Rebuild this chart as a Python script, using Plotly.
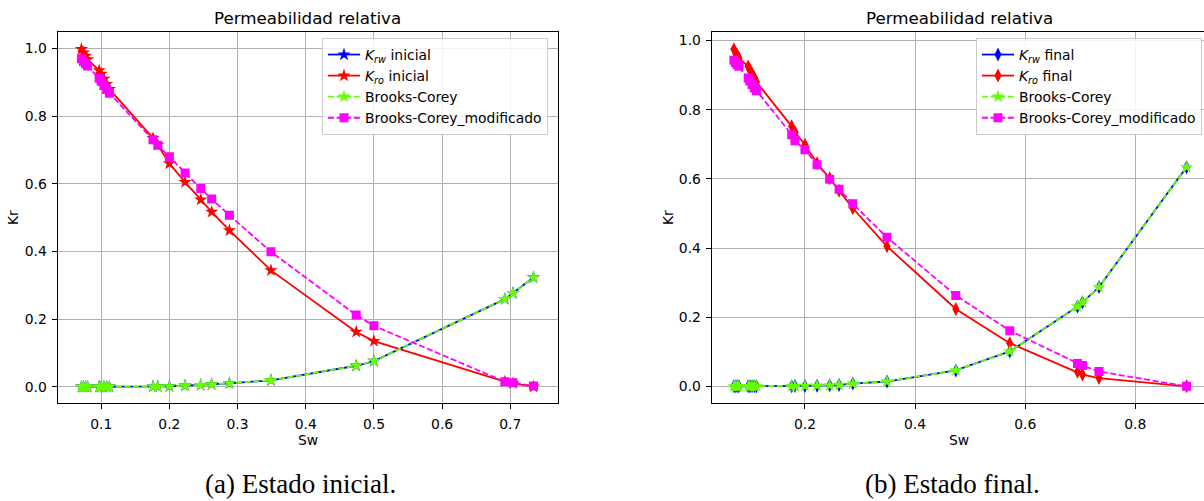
import plotly.graph_objects as go

# ---------------- data: initial state (a) ----------------
sw_ini = [0.071, 0.074, 0.077, 0.080, 0.097, 0.100, 0.104, 0.108, 0.112,
          0.176, 0.183, 0.200, 0.223, 0.246, 0.262, 0.288, 0.349, 0.474,
          0.500, 0.692, 0.704, 0.734]
krw_ini = [0.0, 0.0, 0.0, 0.0, 0.0, 0.0, 0.0, 0.0, 0.0,
           0.0005, 0.0007, 0.001, 0.003, 0.005, 0.007, 0.010, 0.019, 0.062,
           0.076, 0.259, 0.277, 0.323]
kro_ini = [0.998, 0.988, 0.978, 0.968, 0.935, 0.925, 0.910, 0.895, 0.880,
           0.735, 0.715, 0.660, 0.605, 0.553, 0.517, 0.462, 0.344, 0.162,
           0.135, 0.015, 0.010, 0.000]
bc_ini = [0.0, 0.0, 0.0, 0.0, 0.0, 0.0, 0.0, 0.0, 0.0,
          0.0005, 0.0007, 0.001, 0.003, 0.005, 0.007, 0.010, 0.019, 0.062,
          0.076, 0.259, 0.277, 0.323]
bcm_ini = [0.970, 0.962, 0.955, 0.948, 0.912, 0.903, 0.891, 0.879, 0.868,
           0.730, 0.714, 0.680, 0.632, 0.586, 0.555, 0.507, 0.399, 0.212,
           0.180, 0.015, 0.012, 0.002]

# ---------------- data: final state (b) ----------------
sw_fin = [0.071, 0.074, 0.077, 0.080, 0.097, 0.100, 0.104, 0.108, 0.112,
          0.176, 0.182, 0.200, 0.222, 0.245, 0.262, 0.287, 0.349, 0.474,
          0.572, 0.695, 0.704, 0.734, 0.893]
krw_fin = [0.0, 0.0, 0.0, 0.0, 0.0, 0.0, 0.0, 0.0, 0.0,
           0.0006, 0.0008, 0.001, 0.002, 0.003, 0.004, 0.008, 0.014, 0.046,
           0.101, 0.231, 0.243, 0.287, 0.634]
kro_fin = [0.975, 0.965, 0.958, 0.950, 0.925, 0.915, 0.905, 0.893, 0.880,
           0.752, 0.735, 0.699, 0.645, 0.602, 0.566, 0.515, 0.405, 0.224,
           0.125, 0.042, 0.034, 0.024, 0.000]
bc_fin = [0.0, 0.0, 0.0, 0.0, 0.0, 0.0, 0.0, 0.0, 0.0,
          0.0006, 0.0008, 0.001, 0.002, 0.003, 0.004, 0.008, 0.014, 0.046,
          0.101, 0.231, 0.243, 0.287, 0.634]
bcm_fin = [0.943, 0.937, 0.931, 0.926, 0.892, 0.883, 0.873, 0.863, 0.855,
           0.728, 0.710, 0.684, 0.641, 0.599, 0.570, 0.528, 0.431, 0.263,
           0.161, 0.066, 0.060, 0.043, 0.000]

x_ticks_ini = [0.1, 0.2, 0.3, 0.4, 0.5, 0.6, 0.7]
x_ticks_fin = [0.2, 0.4, 0.6, 0.8]
y_ticks = [0.0, 0.2, 0.4, 0.6, 0.8, 1.0]

BLUE, RED, GREEN, MAG = "#0000ff", "#ff0000", "#66ff00", "#ff00ff"
FONT = "DejaVu Sans"
FS = 13.9
W, H = 1204, 501

fig = go.Figure()

def add_set(sw, krw, kro, bc, bcm, xa, ya, leg, sym, lab):
    fig.add_trace(go.Scatter(x=sw, y=krw, mode="lines+markers", xaxis=xa, yaxis=ya,
                             name="<i>K</i><sub><i>rw</i></sub> " + lab, legend=leg,
                             line=dict(color=BLUE, width=1.8),
                             marker=dict(symbol=sym, size=10, color=BLUE)))
    fig.add_trace(go.Scatter(x=sw, y=kro, mode="lines+markers", xaxis=xa, yaxis=ya,
                             name="<i>K</i><sub><i>ro</i></sub> " + lab, legend=leg,
                             line=dict(color=RED, width=1.8),
                             marker=dict(symbol=sym, size=10, color=RED)))
    fig.add_trace(go.Scatter(x=sw, y=bc, mode="lines+markers", xaxis=xa, yaxis=ya,
                             name="Brooks-Corey", legend=leg,
                             line=dict(color=GREEN, width=1.8, dash="6px,2.6px"),
                             marker=dict(symbol="star", size=10, color=GREEN)))
    fig.add_trace(go.Scatter(x=sw, y=bcm, mode="lines+markers", xaxis=xa, yaxis=ya,
                             name="Brooks-Corey_modificado", legend=leg,
                             line=dict(color=MAG, width=1.8, dash="6px,2.6px"),
                             marker=dict(symbol="square", size=9, color=MAG)))

add_set(sw_ini, krw_ini, kro_ini, bc_ini, bcm_ini, "x", "y", "legend", "star", "inicial")
add_set(sw_fin, krw_fin, kro_fin, bc_fin, bcm_fin, "x2", "y2", "legend2", "diamond-tall", "final")

y_dom = [1 - 403.3 / H, 1 - 32.3 / H]
dom1 = [57.5 / W, 558.3 / W]
dom2 = [711.7 / W, 1.0]

axis_common = dict(showgrid=True, gridcolor="#b0b0b0", gridwidth=0.8,
                   showline=True, linecolor="black", linewidth=1,
                   ticks="outside", ticklen=5, tickcolor="black", tickwidth=1,
                   zeroline=False, tickfont=dict(family=FONT, size=FS, color="#000"),
                   tickformat=".1f")

leg_common = dict(yanchor="top", xanchor="right", y=1 - 38 / H,
                  bgcolor="rgba(255,255,255,0.85)", bordercolor="#cccccc", borderwidth=1,
                  font=dict(family=FONT, size=FS, color="#000"), tracegroupgap=0,
                  itemwidth=32)

fig.update_layout(
    width=W, height=H, margin=dict(l=0, r=0, t=0, b=0),
    paper_bgcolor="white", plot_bgcolor="white",
    xaxis=dict(domain=dom1, range=[0.0359, 0.7704], tickvals=x_ticks_ini,
               anchor="y", mirror=True, ticklabelstandoff=3, **axis_common),
    yaxis=dict(domain=y_dom, range=[-0.049, 1.048], tickvals=y_ticks,
               anchor="x", mirror=True, ticklabelstandoff=2, **axis_common),
    xaxis2=dict(domain=dom2, range=[0.0307, 0.9247], tickvals=x_ticks_fin,
                anchor="y2", mirror=True, ticklabelstandoff=3, **axis_common),
    yaxis2=dict(domain=y_dom, range=[-0.049, 1.024], tickvals=y_ticks,
                anchor="x2", mirror=False, ticklabelstandoff=2, **axis_common),
    legend=dict(x=548 / W, **leg_common),
    legend2=dict(x=1202 / W, **leg_common),
    showlegend=True,
)

def ann(text, x, y, size=FS, angle=0, family=FONT, color="#000", yanchor="middle"):
    fig.add_annotation(text=text, x=x / W, y=1 - y / H, xref="paper", yref="paper",
                       showarrow=False, textangle=angle, xanchor="center", yanchor=yanchor,
                       font=dict(family=family, size=size, color=color))

# titles and axis labels
ann("Permeabilidad relativa", 307.5, 18, size=16.7)
ann("Permeabilidad relativa", 959, 18, size=16.7)
ann("Sw", 307.5, 440)
ann("Sw", 959, 440)
ann("Kr", 13, 218, angle=-90)
ann("Kr", 668, 218, angle=-90)
# captions
ann("(a) Estado inicial.", 300, 501, size=27, family="Liberation Serif", yanchor="bottom")
ann("(b) Estado final.", 952, 501, size=27, family="Liberation Serif", yanchor="bottom")

fig.write_html("out.html")
